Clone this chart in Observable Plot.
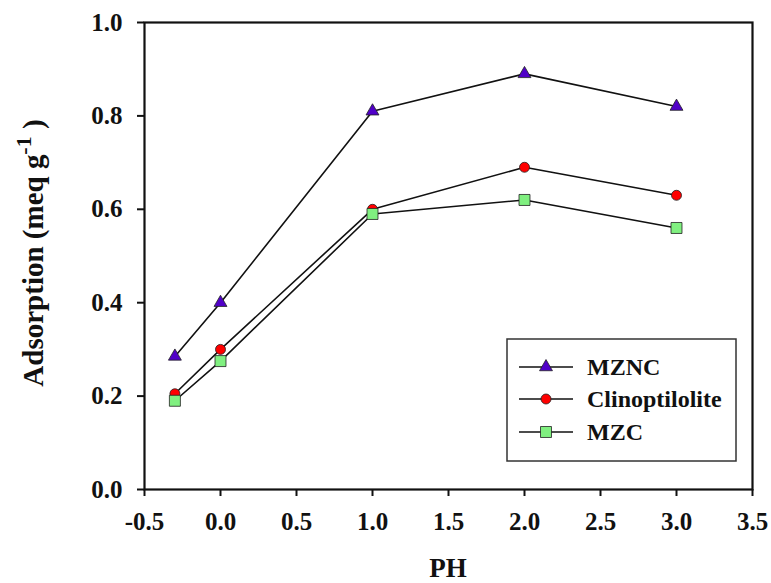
<!DOCTYPE html>
<html><head><meta charset="utf-8">
<script src="https://cdn.jsdelivr.net/npm/d3@7"></script>
<script src="https://cdn.jsdelivr.net/npm/@observablehq/plot@0.6"></script>
<style>body{margin:0;background:#fff}</style>
</head><body><div id="chart"></div>
<script>
const ph = [-0.3, 0, 1, 2, 3];
const mznc = [0.285, 0.40, 0.81, 0.89, 0.82];
const clino = [0.205, 0.30, 0.60, 0.69, 0.63];
const mzc = [0.19, 0.275, 0.59, 0.62, 0.56];
const seriesNames = ["MZNC", "Clinoptilolite", "MZC"];
const seriesValues = [mznc, clino, mzc];
const symbols = ["triangle", "circle", "square"];
const fills = ["#5000c8", "#ff0000", "#80f080"];
const radii = [4.8, 5, 6.2];
const xTicks = [-0.5, 0, 0.5, 1, 1.5, 2, 2.5, 3, 3.5];
const yTicks = [0, 0.2, 0.4, 0.6, 0.8, 1.0];

const data = [];
seriesNames.forEach((s, i) => ph.forEach((x, j) => data.push({series: s, x, y: seriesValues[i][j], k: i})));

const font = "'Liberation Serif', 'Times New Roman', serif";
const marks = [
  Plot.line(data, {x: "x", y: "y", z: "series", stroke: "#111", strokeWidth: 1.6}),
];
seriesNames.forEach((s, i) => {
  marks.push(Plot.dot(data.filter(d => d.k === i), {x: "x", y: "y", symbol: () => symbols[i], r: radii[i], fill: fills[i], stroke: "#222", strokeWidth: 0.8}));
});
marks.push(
  Plot.axisX({ticks: xTicks, tickFormat: d => d.toFixed(1), tickSize: 7, tickPadding: 16, label: null, strokeWidth: 2, fontSize: 25}),
  Plot.axisY({ticks: yTicks, tickFormat: d => d.toFixed(1), tickSize: 7, tickPadding: 15, label: null, strokeWidth: 2, fontSize: 25}),
  Plot.frame({stroke: "#111", strokeWidth: 2.2})
);

const chart = Plot.plot({
  width: 771, height: 583,
  marginLeft: 144, marginRight: 19, marginTop: 22, marginBottom: 94,
  x: {domain: [-0.5, 3.5]},
  y: {domain: [0, 1.0]},
  symbol: {type: "identity"},
  style: {fontFamily: font, fontWeight: "bold", fontSize: "25px", color: "#111", background: "#fff"},
  marks
});
document.getElementById("chart").appendChild(chart);

const svg = d3.select(chart);
// axis titles
svg.append("text").attr("x", 448).attr("y", 577).attr("text-anchor", "middle")
  .attr("font-family", font).attr("font-weight", "bold").attr("font-size", 27).attr("fill", "#111").text("PH");
const yl = svg.append("text").attr("transform", "translate(43,253) rotate(-90)").attr("text-anchor", "middle")
  .attr("font-family", font).attr("font-weight", "bold").attr("font-size", 29).attr("fill", "#111");
yl.append("tspan").text("Adsorption (meq g");
yl.append("tspan").attr("dy", -12).attr("font-size", 22).text("-1");
yl.append("tspan").attr("dy", 12).text(" )");

// legend
const lg = svg.append("g");
lg.append("rect").attr("x", 507).attr("y", 339).attr("width", 229).attr("height", 122)
  .attr("fill", "#fff").attr("stroke", "#333").attr("stroke-width", 1.5);
const symMap = {triangle: d3.symbolTriangle, circle: d3.symbolCircle, square: d3.symbolSquare};
const rowY = [367, 399, 432];
seriesNames.forEach((s, i) => {
  const y = rowY[i];
  lg.append("line").attr("x1", 519).attr("x2", 573).attr("y1", y).attr("y2", y).attr("stroke", "#111").attr("stroke-width", 1.6);
  lg.append("path").attr("transform", `translate(546,${y})`)
    .attr("d", d3.symbol(symMap[symbols[i]], Math.PI * radii[i] * radii[i])())
    .attr("fill", fills[i]).attr("stroke", "#222").attr("stroke-width", 0.8);
  lg.append("text").attr("x", 587).attr("y", y).attr("dy", "0.35em").attr("text-anchor", "start")
    .attr("font-family", font).attr("font-weight", "bold").attr("font-size", 24).attr("fill", "#111").text(s);
});
</script></body></html>
